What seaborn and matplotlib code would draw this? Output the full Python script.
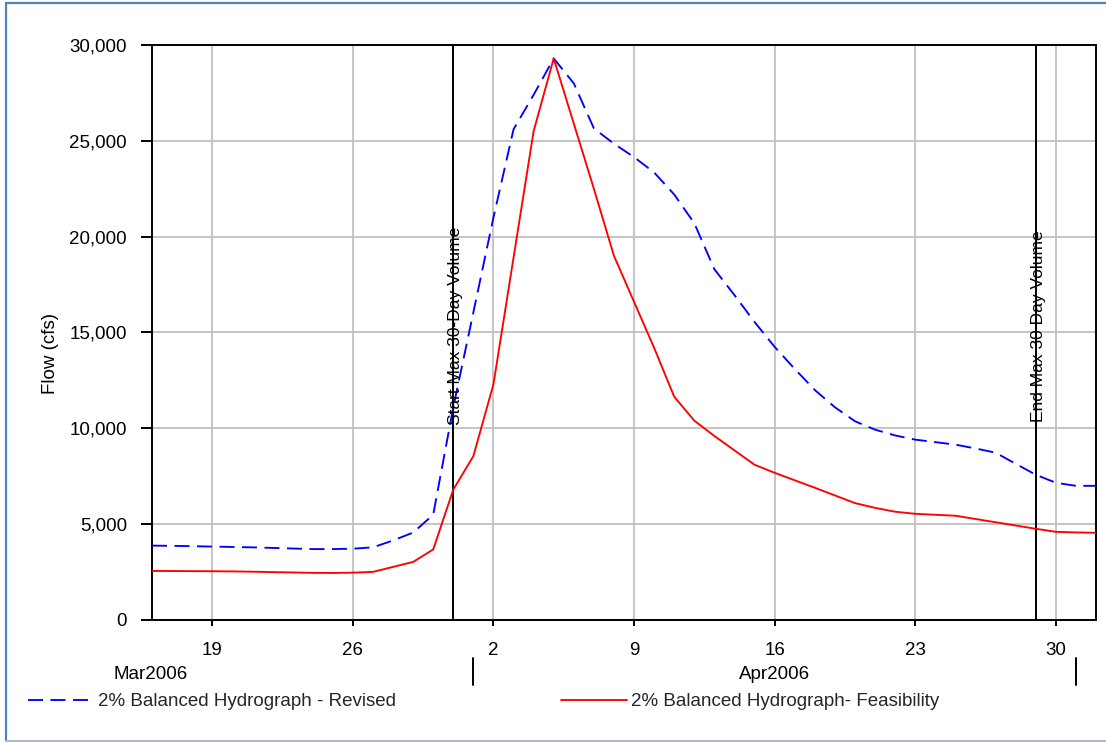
import pandas as pd
import matplotlib
matplotlib.use("Agg")
import matplotlib.pyplot as plt
import matplotlib.dates as mdates
from matplotlib.lines import Line2D
from matplotlib.ticker import FuncFormatter
import seaborn as sns

# ---- data -------------------------------------------------------------
dates = pd.date_range("2006-03-16", "2006-05-02", freq="D")

revised_cfs = [
    3880, 3870, 3850, 3830, 3810, 3790, 3760, 3730, 3700, 3700, 3720, 3790,
    4150, 4560, 5490, 11100,
    16050, 21000, 25600, 27400, 29300, 28000, 25650, 24850, 24150, 23350,
    22200, 20700, 18300, 16950, 15550, 14250, 13100, 12000, 11100, 10370,
    9930, 9630, 9410, 9280, 9150, 8950, 8730, 8150, 7580, 7160,
    7000, 7000,
]

feasibility_cfs = [
    2560, 2555, 2550, 2545, 2535, 2520, 2500, 2480, 2460, 2455, 2470, 2510,
    2770, 3030, 3680, 6800,
    8550, 12300, 18900, 25500, 29300, 25900, 22500, 19000, 16600, 14200,
    11650, 10400, 9600, 8850, 8100, 7680, 7290, 6900, 6500, 6100,
    5850, 5650, 5540, 5490, 5440, 5270, 5100, 4930, 4760, 4600,
    4570, 4550,
]

series_names = ["2% Balanced Hydrograph - Revised",
                "2% Balanced Hydrograph- Feasibility"]

event_dates = ["2006-03-31", "2006-04-29"]
event_labels = ["Start Max 30-Day Volume", "End Max 30 Day Volume"]

tick_dates = ["2006-03-19", "2006-03-26", "2006-04-02", "2006-04-09",
              "2006-04-16", "2006-04-23", "2006-04-30"]
tick_labels = ["19", "26", "2", "9", "16", "23", "30"]

month_labels = ["Mar2006", "Apr2006"]
month_centers = ["2006-03-15 22:00", "2006-04-16"]
month_bounds = ["2006-04-01", "2006-05-01"]

y_ticks = [0, 5000, 10000, 15000, 20000, 25000, 30000]

# ---- style ------------------------------------------------------------
sns.set_style("ticks")
plt.rcParams["font.family"] = ["Liberation Sans", "DejaVu Sans"]
FS = 13.5
LW = 1.35

W, H = 1106, 742
fig = plt.figure(figsize=(W / 100, H / 100), dpi=100)
fig.patch.set_facecolor("white")
ax = fig.add_axes([152 / W, 1 - 620 / H, (1096 - 152) / W, (620 - 45) / H])

df = pd.DataFrame({"date": dates, "revised": revised_cfs,
                   "feasibility": feasibility_cfs})

sns.lineplot(data=df, x="date", y="revised", ax=ax, color="#0000ff",
             linewidth=LW, zorder=4)
blue_line = ax.get_lines()[-1]
blue_line.set_dashes([8, 4])
sns.lineplot(data=df, x="date", y="feasibility", ax=ax, color="#ff0000",
             linewidth=LW, zorder=4)

# axis limits and ticks
ax.set_xlim(pd.Timestamp("2006-03-16"), pd.Timestamp("2006-05-02"))
ax.set_ylim(0, 30000)
ax.set_yticks(y_ticks)
ax.yaxis.set_major_formatter(FuncFormatter(lambda v, _: f"{v:,.0f}"))
ax.set_xticks([mdates.date2num(pd.Timestamp(d)) for d in tick_dates])
ax.set_xticklabels(tick_labels)

ax.tick_params(axis="y", direction="out", length=8, width=1.4,
               color="black", labelsize=FS, pad=10, labelcolor="black")
ax.tick_params(axis="x", direction="out", length=4, width=1.4,
               color="black", labelsize=FS, pad=11.5, labelcolor="black")

ax.grid(True, color="#c0c0c0", linewidth=1.3, zorder=0)
ax.set_axisbelow(True)
for side in ("left", "right", "top", "bottom"):
    ax.spines[side].set_visible(True)
    ax.spines[side].set_color("black")
    ax.spines[side].set_linewidth(1.4)

ax.set_xlabel("")
ax.set_ylabel("Flow (cfs)", fontsize=FS, color="black")
ax.yaxis.set_label_coords(-0.0985, 0.463)

# event markers with rotated labels
for d, lab in zip(event_dates, event_labels):
    xd = mdates.date2num(pd.Timestamp(d))
    ax.axvline(xd, color="black", linewidth=1.4, zorder=3)
    ax.text(xd + 0.13, 15350, lab, rotation=90, ha="center", va="center",
            fontsize=12.5, color="black", zorder=5)

# month row under the day ticks
xt = ax.get_xaxis_transform()
for d, lab in zip(month_centers, month_labels):
    ax.text(mdates.date2num(pd.Timestamp(d)), -0.0945, lab, transform=xt,
            ha="center", va="center", fontsize=FS, color="black",
            clip_on=False)
for d in month_bounds:
    xd = mdates.date2num(pd.Timestamp(d))
    ax.plot([xd, xd], [-0.066, -0.113], transform=xt, color="black",
            linewidth=1.4, clip_on=False)

# legend entries along the bottom
leg_handles = [
    Line2D([], [], color="#0000ff", linewidth=LW, dashes=[8, 4]),
    Line2D([], [], color="#ff0000", linewidth=LW),
]
leg_x = [28 / W, 561 / W]
for h, name, lx in zip(leg_handles, series_names, leg_x):
    fig.legend(handles=[h], labels=[name], loc="center left",
               bbox_to_anchor=(lx, 1 - 701.5 / H),
               bbox_transform=fig.transFigure, frameon=False,
               fontsize=FS, handlelength=3.5, handletextpad=0.25,
               borderpad=0, borderaxespad=0)

# outer frame
frame_kw = dict(transform=fig.transFigure, clip_on=False)
fig.add_artist(Line2D([6 / W, 6 / W], [1 - 2.5 / H, 1 - 740.5 / H],
                      color="#4f81bd", linewidth=1.6, **frame_kw))
fig.add_artist(Line2D([6 / W, 1.0], [1 - 2.5 / H, 1 - 2.5 / H],
                      color="#4f81bd", linewidth=1.6, **frame_kw))
fig.add_artist(Line2D([6 / W, 1.0], [1 - 740.5 / H, 1 - 740.5 / H],
                      color="#a7bad6", linewidth=1.4, **frame_kw))

fig.savefig("out.png", dpi=100, facecolor="white")
